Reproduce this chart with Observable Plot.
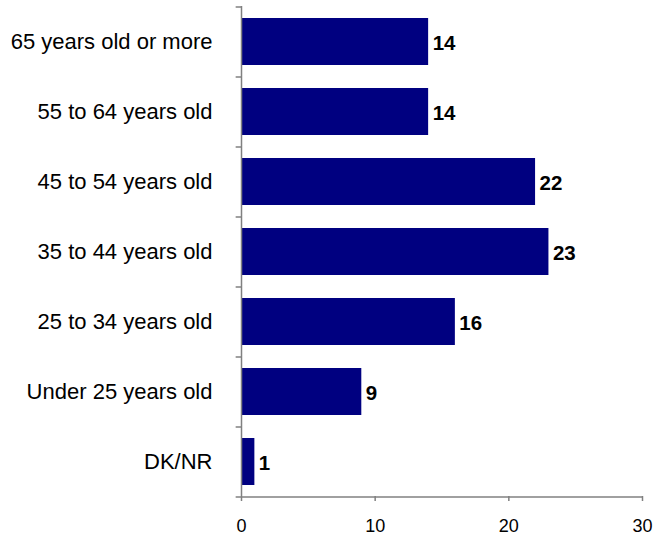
<!DOCTYPE html>
<html>
<head>
<meta charset="utf-8">
<script src="https://cdn.jsdelivr.net/npm/d3@7"></script>
<script src="https://cdn.jsdelivr.net/npm/@observablehq/plot@0.6"></script>
<style>
  html, body { margin: 0; padding: 0; background: #fff; }
  #chart svg { display: block; }
</style>
</head>
<body>
<div id="chart"></div>
<script>
// Age groups, top to bottom, with their shares (%)
const categories = [
  "65 years old or more",
  "55 to 64 years old",
  "45 to 54 years old",
  "35 to 44 years old",
  "25 to 34 years old",
  "Under 25 years old",
  "DK/NR"
];
const values = [14, 14, 22, 23, 16, 9, 1];
const xTicks = [0, 10, 20, 30];

const data = categories.map((c, i) => ({category: c, value: values[i]}));

const width = 654, height = 537;
const marginTop = 6, marginBottom = 41, marginLeft = 241, marginRight = 12;
const step = (height - marginTop - marginBottom) / categories.length;
const axisColor = "#808080";
const font = "Liberation Sans, Arial, sans-serif";

// boundaries between category bands: top of every band plus bottom of the last
const bounds = [
  ...categories.map(c => ({category: c, dy: -step / 2})),
  {category: categories[categories.length - 1], dy: step / 2}
];

const chart = Plot.plot({
  width, height, marginTop, marginBottom, marginLeft, marginRight,
  style: {fontFamily: font, background: "#fff"},
  x: {domain: [0, 30], ticks: xTicks, label: null},
  y: {domain: categories, label: null, paddingInner: 0.33, paddingOuter: 0.165},
  marks: [
    Plot.barX(data, {y: "category", x: "value", fill: "#000080"}),
    Plot.text(data, {
      y: "category", x: "value", text: d => String(d.value),
      textAnchor: "start", dx: 4, dy: 1, fontWeight: "bold", fontSize: 20.5, fill: "#000"
    }),
    // y axis line and band-boundary ticks
    Plot.ruleX([0], {stroke: axisColor, strokeWidth: 1.5}),
    ...bounds.map(b => Plot.ruleY([b.category], {
      x1: -0.4, x2: 0, dy: b.dy, stroke: axisColor, strokeWidth: 1.5, clip: false
    })),
    // category labels
    Plot.axisY({
      tickSize: 0, tickPadding: 29, fontSize: 22, fill: "#000", label: null
    }),
    // x axis
    Plot.axisX({
      ticks: xTicks, tickSize: 5, tickPadding: 18, fontSize: 18,
      stroke: axisColor, strokeWidth: 1.5, fill: "#000", label: null
    }),
    Plot.ruleY([0], {
      y: () => categories[categories.length - 1], x1: 0, x2: 30, dy: step / 2,
      stroke: axisColor, strokeWidth: 1.5
    })
  ]
});

document.getElementById("chart").append(chart);
</script>
</body>
</html>
